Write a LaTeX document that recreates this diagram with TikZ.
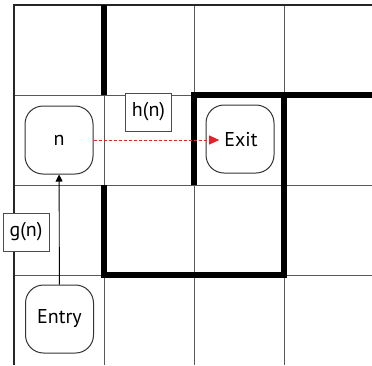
\documentclass[tikz,border=0pt]{standalone}
\usepackage{fontspec}
\setmainfont{PT Sans}
\usetikzlibrary{arrows.meta}
\definecolor{arrowred}{HTML}{E8202A}
\begin{document}
\begin{tikzpicture}[x=1pt,y=-1pt,
  gridline/.style={draw=black!65, line width=1pt},
  border/.style={draw=black!85, line width=2pt},
  wall/.style={draw=black, line width=6.5pt, line join=miter},
  state/.style={draw=black!80, line width=1pt, fill=white, rounded corners=18pt,
    minimum width=68pt, minimum height=68pt, inner sep=0pt, font=\fontsize{20}{24}\selectfont},
  lbl/.style={draw=black!70, line width=1pt, fill=white, minimum width=46pt,
    minimum height=38pt, inner sep=0pt, font=\fontsize{20}{24}\selectfont},
  txt/.style={inner ysep=0pt, inner xsep=5pt, font=\fontsize{20}{24}\selectfont}]
\useasboundingbox (0,0) rectangle (372,365);
% grid
\foreach \x in {104,194,284} \draw[gridline] (\x,5) -- (\x,365);
\foreach \y in {95,185,275} \draw[gridline] (14,\y) -- (372,\y);
\draw[border] (14,365) -- (14,5) -- (372,5);
% walls
\draw[wall] (104,5) -- (104,95);
\draw[wall] (194,185) -- (194,95) -- (372,95);
\draw[wall] (104,185) -- (104,275) -- (284,275) -- (284,95);
% nodes
\node[state] (n) at (59,140) {n};
\node[state] (exitbox) at (240,139) {};
\node[txt] (exit) at (241,140) {Exit};
\node[state] (entry) at (59.5,319) {Entry};
\node[lbl] (h) at (148.5,112) {h(n)};
\node[lbl] (g) at (26,232) {g(n)};
% arrows
\draw[line width=0.9pt, -{Triangle[length=7pt,width=7pt]}] (entry) -- (n);
\draw[arrowred, line width=0.9pt, dash pattern=on 3pt off 2pt,
  -{Triangle[length=10pt,width=9pt]}] (n.east) -- (exit.west);
\end{tikzpicture}
\end{document}
